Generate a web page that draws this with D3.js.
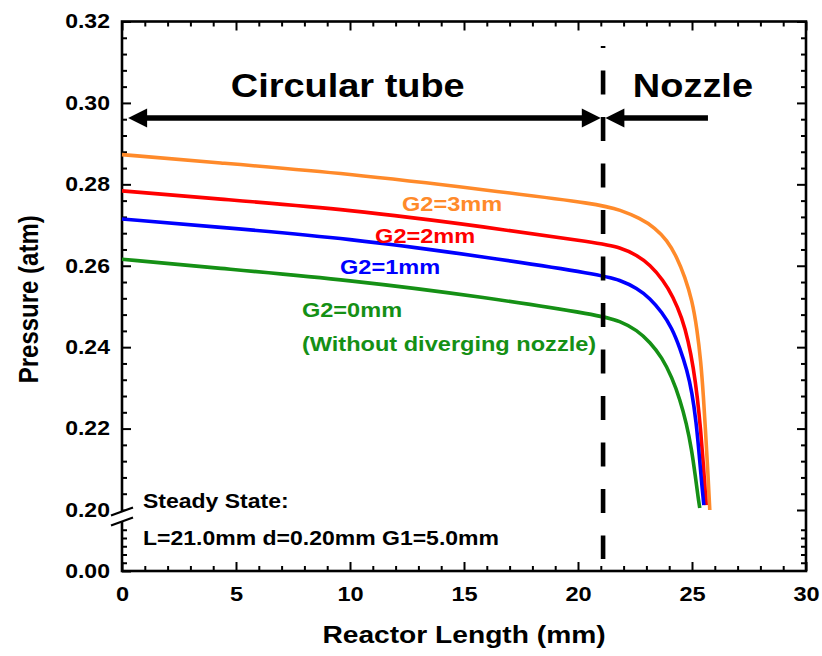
<!DOCTYPE html>
<html><head><meta charset="utf-8">
<script src="https://cdn.jsdelivr.net/npm/d3@7/dist/d3.min.js"></script>
<style>
body{margin:0;background:#fff}
text{font-family:"Liberation Sans",Arial,Helvetica,sans-serif;font-weight:bold}
</style>
</head><body>
<svg id="chart" width="822" height="656"></svg>
<script>
// ---------- data ----------
const xMajorTicks = [0, 5, 10, 15, 20, 25, 30];
const yTicksUpper = [0.20, 0.22, 0.24, 0.26, 0.28, 0.30, 0.32];
const yTicksLower = [0.00];
const seriesNames = ["G2=3mm", "G2=2mm", "G2=1mm", "G2=0mm"];
const seriesColors = ["#ff8a2a", "#ff0000", "#0000ff", "#159015"];

const g2_3mm = [[0,0.2873],[4,0.2854],[10,0.2826],[16,0.2786],[21,0.2751],[21.84,0.2737],[22.72,0.2717],[23.38,0.2693],[23.9,0.2663],[24.34,0.2621],[24.69,0.2572],[25.0,0.2516],[25.22,0.2445],[25.39,0.2364],[25.5,0.2280],[25.59,0.2197],[25.68,0.2110],[25.78,0.2000]];
const g2_2mm = [[0,0.2784],[4,0.2765],[10,0.2738],[16,0.2695],[21,0.2655],[21.84,0.2645],[22.59,0.2626],[23.16,0.2602],[23.73,0.2565],[24.17,0.2524],[24.56,0.2472],[24.84,0.2415],[25.06,0.2350],[25.24,0.2276],[25.38,0.2197],[25.5,0.2112],[25.62,0.2012]];
const g2_1mm = [[0,0.2715],[4,0.2696],[10,0.2667],[16,0.2621],[21,0.2578],[21.84,0.2565],[22.59,0.2545],[23.16,0.2520],[23.68,0.2486],[24.12,0.2447],[24.47,0.2398],[24.78,0.2344],[25.0,0.2289],[25.18,0.2218],[25.32,0.2134],[25.44,0.2055],[25.52,0.2012]];
const g2_0mm = [[0,0.2616],[4,0.2595],[10,0.2565],[16,0.2522],[21,0.2478],[21.84,0.2464],[22.59,0.2442],[23.16,0.2412],[23.68,0.2375],[24.12,0.2326],[24.47,0.2272],[24.76,0.2212],[24.98,0.2150],[25.15,0.2082],[25.27,0.2030],[25.34,0.2005]];
const seriesData = [g2_3mm, g2_2mm, g2_1mm, g2_0mm];

// label anchors (data units): [x, y]
const seriesLabelPos = [[12.28,0.2734],[11.1,0.2656],[9.56,0.2580],[7.89,0.2474]];
const noteLabel = "(Without diverging nozzle)";
const noteLabelPos = [7.89, 0.2390];
const boundaryX = 21.1;
const arrowY = 0.2963;
const tubeArrow = [0.27, 21.0];
const nozzleArrow = [25.7, 21.2];
const regionTitles = ["Circular tube", "Nozzle"];
const regionTitlePos = [[9.9, 0.3014], [25.04, 0.3014]];
const steadyLines = ["Steady State:", "L=21.0mm d=0.20mm G1=5.0mm"];

// ---------- layout ----------
const W = 822, H = 656;
const m = {left:122, right:16, top:21.5, bottom:85};
const x0 = m.left, x1 = W - m.right, yTop = m.top, yBot = H - m.bottom;
const STRETCH = 1.15;

const x = d3.scaleLinear().domain([0,30]).range([x0, x1]);
const yU = d3.scaleLinear().domain([0.20,0.32]).range([510, yTop]);
const yL = d3.scaleLinear().domain([0,0.20]).range([yBot, 516]);

const svg = d3.select("#chart");

function stext(g, px, py, str, size, anchor, color){
  return g.append("text")
    .attr("transform", `translate(${px},${py}) scale(${STRETCH},1)`)
    .attr("text-anchor", anchor || "start")
    .attr("font-size", size)
    .attr("fill", color || "#000")
    .text(str);
}

// ---------- axes ticks ----------
const axG = svg.append("g");
function styleAxis(sel){
  sel.select(".domain").remove();
  sel.selectAll(".tick line").attr("stroke","#000").attr("stroke-width",2);
}
const xMinor = d3.range(0,31).filter(v => v % 5 !== 0);
// bottom
axG.append("g").attr("transform",`translate(0,${yBot})`)
  .call(d3.axisBottom(x).tickValues(xMajorTicks).tickSize(-9).tickPadding(15).tickFormat(d3.format("d")))
  .call(styleAxis)
  .call(g => g.selectAll("text").attr("font-size",20.5).attr("fill","#000")
     .attr("font-family",null).attr("transform",`scale(${STRETCH},1)`));
axG.append("g").attr("transform",`translate(0,${yBot})`)
  .call(d3.axisBottom(x).tickValues(xMinor).tickSize(-5).tickFormat(""))
  .call(styleAxis);
// top
axG.append("g").attr("transform",`translate(0,${yTop})`)
  .call(d3.axisTop(x).tickValues(xMajorTicks).tickSize(-9).tickFormat(""))
  .call(styleAxis);
axG.append("g").attr("transform",`translate(0,${yTop})`)
  .call(d3.axisTop(x).tickValues(xMinor).tickSize(-5).tickFormat(""))
  .call(styleAxis);
// left
const yMinorU = d3.range(0.204, 0.3200001, 0.004).filter(v => Math.abs(Math.round(v/0.02)*0.02 - v) > 1e-6);
const yMinorL = [0.03, 0.06, 0.09, 0.12, 0.15];
function leftLabels(g){
  g.selectAll("text").attr("font-size",20).attr("fill","#000").attr("font-family",null)
   .attr("transform",`scale(${STRETCH},1)`).attr("x",-10.5);
}
axG.append("g").attr("transform",`translate(${x0},0)`)
  .call(d3.axisLeft(yU).tickValues(yTicksUpper).tickSize(-9).tickFormat(d3.format(".2f")))
  .call(styleAxis).call(leftLabels);
axG.append("g").attr("transform",`translate(${x0},0)`)
  .call(d3.axisLeft(yU).tickValues(yMinorU).tickSize(-5).tickFormat(""))
  .call(styleAxis);
axG.append("g").attr("transform",`translate(${x0},0)`)
  .call(d3.axisLeft(yL).tickValues(yTicksLower).tickSize(-9).tickFormat(d3.format(".2f")))
  .call(styleAxis).call(leftLabels);
axG.append("g").attr("transform",`translate(${x0},0)`)
  .call(d3.axisLeft(yL).tickValues(yMinorL).tickSize(-5).tickFormat(""))
  .call(styleAxis);
// right
axG.append("g").attr("transform",`translate(${x1},0)`)
  .call(d3.axisRight(yU).tickValues(yTicksUpper).tickSize(-9).tickFormat(""))
  .call(styleAxis);
axG.append("g").attr("transform",`translate(${x1},0)`)
  .call(d3.axisRight(yU).tickValues(yMinorU).tickSize(-5).tickFormat(""))
  .call(styleAxis);
axG.append("g").attr("transform",`translate(${x1},0)`)
  .call(d3.axisRight(yL).tickValues(yMinorL).tickSize(-5).tickFormat(""))
  .call(styleAxis);

// frame
svg.append("rect").attr("x",x0).attr("y",yTop).attr("width",x1-x0).attr("height",yBot-yTop)
  .attr("fill","none").attr("stroke","#000").attr("stroke-width",2.6);

// axis break on left axis
const bk = svg.append("g");
bk.append("path").attr("d",`M${x0-11},${515.5} L${x0+11},${507.5} L${x0+11},${517.5} L${x0-11},${525.5} Z`).attr("fill","#fff");
bk.append("line").attr("x1",x0-11).attr("y1",515.5).attr("x2",x0+11).attr("y2",507.5).attr("stroke","#000").attr("stroke-width",2.2);
bk.append("line").attr("x1",x0-11).attr("y1",525.5).attr("x2",x0+11).attr("y2",517.5).attr("stroke","#000").attr("stroke-width",2.2);

// ---------- curves ----------
const line = d3.line().x(d => x(d[0])).y(d => yU(d[1])).curve(d3.curveBasis);
svg.append("g").selectAll("path").data(seriesData).join("path")
  .attr("d", line).attr("fill","none")
  .attr("stroke", (d,i) => seriesColors[i]).attr("stroke-width",3.6);

// series labels
seriesNames.forEach((n,i) => stext(svg, x(seriesLabelPos[i][0]), yU(seriesLabelPos[i][1]), n, 20.5, "start", seriesColors[i]));
stext(svg, x(noteLabelPos[0]), yU(noteLabelPos[1]), noteLabel, 20.5, "start", seriesColors[3]);

// ---------- boundary dashed line ----------
svg.append("line").attr("x1",x(boundaryX)).attr("x2",x(boundaryX))
  .attr("y1", yU(0.314)).attr("y2", yL(0.0436))
  .attr("stroke","#000").attr("stroke-width",4.6)
  .attr("stroke-dasharray","24 22.5").attr("stroke-dashoffset",22);

// ---------- arrows ----------
function arrow(xa, xb, yv){
  const ya = yU(yv), pa = x(xa), pb = x(xb);
  const dir = Math.sign(pb - pa), L = 19, hw = 9.5;
  svg.append("line").attr("x1", pa).attr("x2", pb - dir*L + dir*1).attr("y1", ya).attr("y2", ya)
    .attr("stroke","#000").attr("stroke-width",5.5);
  svg.append("path").attr("d",`M${pb},${ya} L${pb-dir*L},${ya-hw} L${pb-dir*L},${ya+hw} Z`).attr("fill","#000");
}
function doubleArrow(xa, xb, yv){
  const ya = yU(yv), pa = x(xa), pb = x(xb), L = 19, hw = 9.5;
  svg.append("line").attr("x1", pa + L - 1).attr("x2", pb - L + 1).attr("y1", ya).attr("y2", ya)
    .attr("stroke","#000").attr("stroke-width",5.5);
  svg.append("path").attr("d",`M${pa},${ya} L${pa+L},${ya-hw} L${pa+L},${ya+hw} Z`).attr("fill","#000");
  svg.append("path").attr("d",`M${pb},${ya} L${pb-L},${ya-hw} L${pb-L},${ya+hw} Z`).attr("fill","#000");
}
doubleArrow(tubeArrow[0], tubeArrow[1], arrowY);
arrow(nozzleArrow[0], nozzleArrow[1], arrowY);

// region titles
regionTitles.forEach((t,i) => stext(svg, x(regionTitlePos[i][0]), yU(regionTitlePos[i][1]), t, 33, "middle", "#000"));

// steady state note
stext(svg, x(0.92), yU(0.2005), steadyLines[0], 20, "start", "#000");
stext(svg, x(0.92), yL(0.0945), steadyLines[1], 20, "start", "#000");

// axis titles
stext(svg, x(15), 643, "Reactor Length (mm)", 24.5, "middle", "#000");
svg.append("text").attr("transform",`translate(38,${(yTop+yBot)/2+3}) rotate(-90) scale(1,${STRETCH})`)
  .attr("text-anchor","middle").attr("font-size",24).attr("fill","#000").text("Pressure (atm)");
</script>
</body></html>
